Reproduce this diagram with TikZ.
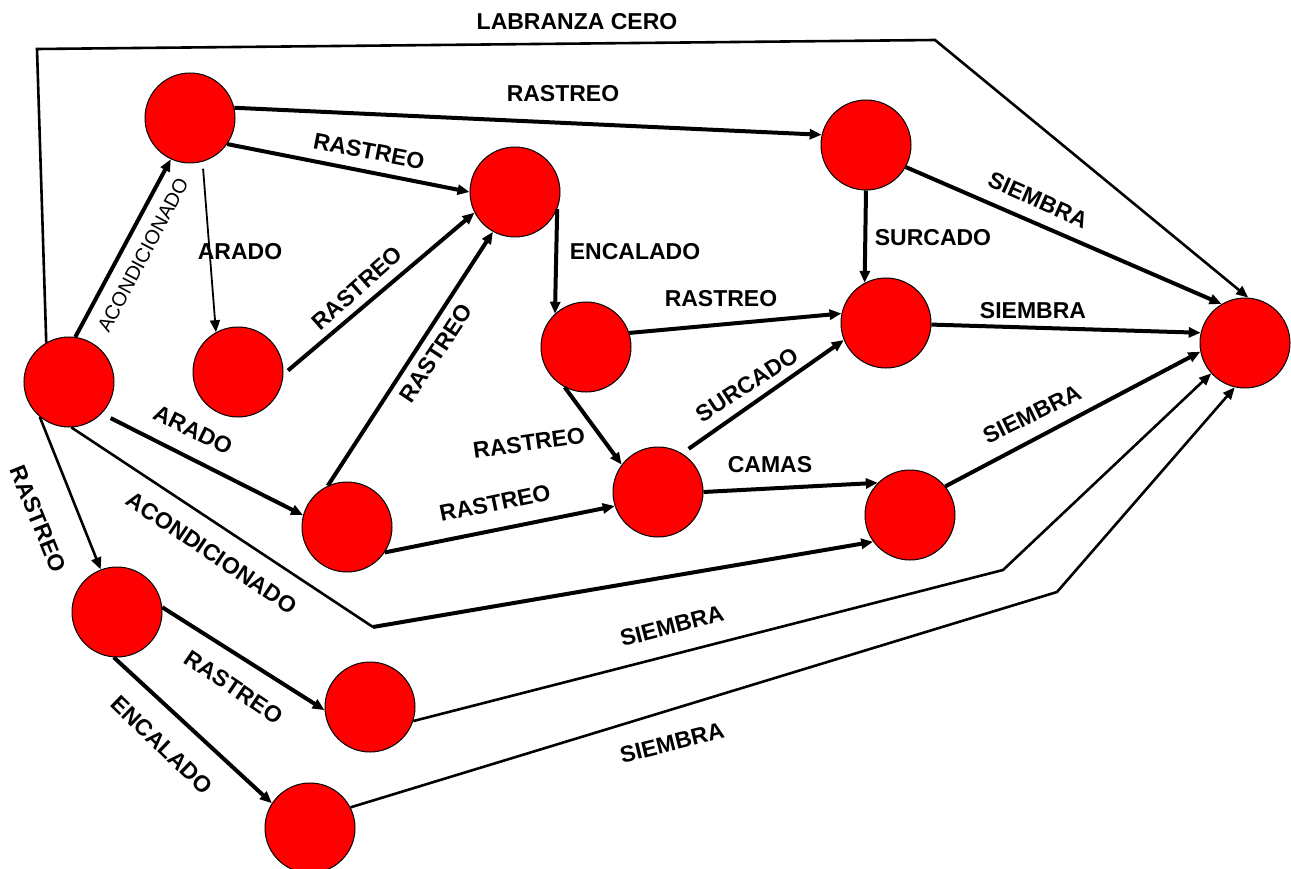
\documentclass[tikz,border=0pt]{standalone}
\usepackage{fontspec}
\setmainfont{Liberation Sans}
\usetikzlibrary{arrows.meta}
\begin{document}
\begin{tikzpicture}[x=1pt,y=-1pt,
  stage/.style={circle,draw=black,line width=1pt,fill=red,minimum size=90pt,inner sep=0pt},
  lbl/.style={font=\bfseries\fontsize{23}{23}\selectfont,inner sep=0pt},
  lblreg/.style={font=\fontsize{20}{20}\selectfont,inner sep=0pt},
  heavy/.style={line width=4pt,-{Triangle[length=12pt,width=10pt]}},
  light/.style={line width=2.6pt,-{Triangle[length=12pt,width=10pt]}},
  hair/.style={line width=1.8pt,-{Triangle[length=12pt,width=10pt]}},
]
\useasboundingbox (0,0) rectangle (1291,869);
% nodes
\node[stage] (A) at (69,382) {};
\node[stage] (B) at (190,118) {};
\node[stage] (C) at (238,372) {};
\node[stage] (D) at (515,192) {};
\node[stage] (E) at (586,347) {};
\node[stage] (F) at (866,145) {};
\node[stage] (G) at (886,323) {};
\node[stage] (H) at (1245,343) {};
\node[stage] (I) at (347,527) {};
\node[stage] (J) at (658,492) {};
\node[stage] (K) at (910,515) {};
\node[stage] (L) at (117,612) {};
\node[stage] (M) at (370,707) {};
\node[stage] (N) at (310,828) {};
% bends
\coordinate (c1) at (37,49);
\coordinate (c2) at (935,40);
\coordinate (c3) at (373,627);
\coordinate (c4) at (1003,570);
\coordinate (c5) at (1057,592);
% connectors
\draw[light] (A.120) -- (c1) -- (c2) -- (H.86);
\draw[heavy] (A.82) -- (B.245);
\draw[heavy] (B.13) -- (F.167);
\draw[heavy] (B.-35) -- (D.180);
\draw[hair,shorten <=7pt] (B.-74) -- (C.119);
\draw[heavy,shorten <=6pt] (C.-3) -- (D.207);
\draw[heavy] (I.115) -- (D.241);
\draw[heavy] (D.-22) -- (E.133);
\draw[heavy] (E.18) -- (G.168);
\draw[heavy] (F.-90) -- (G.118);
\draw[heavy] (F.-29) -- (H.121);
\draw[heavy] (G.-2) -- (H.167);
\draw[heavy] (E.242) -- (J.143);
\draw[heavy,shorten <=8pt] (J.58) -- (G.202);
\draw[heavy] (J.0) -- (K.135);
\draw[heavy] (K.39) -- (H.191);
\draw[heavy,shorten <=10pt] (A.-44) -- (I.165);
\draw[heavy] (I.-34) -- (J.198);
\draw[light,-] (A.-87) -- (c3);
\draw[heavy] (c3) -- (K.216);
\draw[light] (A.230) -- (L.111);
\draw[heavy] (L.6) -- (M.184);
\draw[heavy] (L.266) -- (N.147);
\draw[light] (M.-18) -- (c4) -- (H.222);
\draw[light] (N.27) -- (c5) -- (H.257);
% labels
\node[lbl] (t1) at (577,22) {LABRANZA CERO};
\node[lbl] (t2) at (563,94) {RASTREO};
\node[lbl,rotate=-11] (t3) at (369,151) {RASTREO};
\node[lblreg,rotate=62] (t4) at (143,255) {ACONDICIONADO};
\node[lbl] (t5) at (240,252) {ARADO};
\node[lbl,rotate=41.5] (t6) at (357,288) {RASTREO};
\node[lbl,rotate=56.4] (t7) at (436,353) {RASTREO};
\node[lbl] (t8) at (635,252) {ENCALADO};
\node[lbl] (t9) at (721,299) {RASTREO};
\node[lbl] (t10) at (933,238) {SURCADO};
\node[lbl,rotate=-24] (t11) at (1038,200) {SIEMBRA};
\node[lbl] (t12) at (1033,311) {SIEMBRA};
\node[lbl,rotate=8] (t13) at (529,443) {RASTREO};
\node[lbl,rotate=33] (t14) at (747,385) {SURCADO};
\node[lbl] (t15) at (770,465) {CAMAS};
\node[lbl,rotate=26] (t16) at (1032,414) {SIEMBRA};
\node[lbl,rotate=-26] (t17) at (193,430) {ARADO};
\node[lbl,rotate=11.5] (t18) at (495,503) {RASTREO};
\node[lbl,rotate=-34] (t19) at (212,553) {ACONDICIONADO};
\node[lbl,rotate=-68] (t20) at (38,519) {RASTREO};
\node[lbl,rotate=-34] (t21) at (234,687) {RASTREO};
\node[lbl,rotate=-44] (t22) at (162,745) {ENCALADO};
\node[lbl,rotate=14.5] (t23) at (672,626) {SIEMBRA};
\node[lbl,rotate=14] (t24) at (672,743) {SIEMBRA};
\end{tikzpicture}
\end{document}
